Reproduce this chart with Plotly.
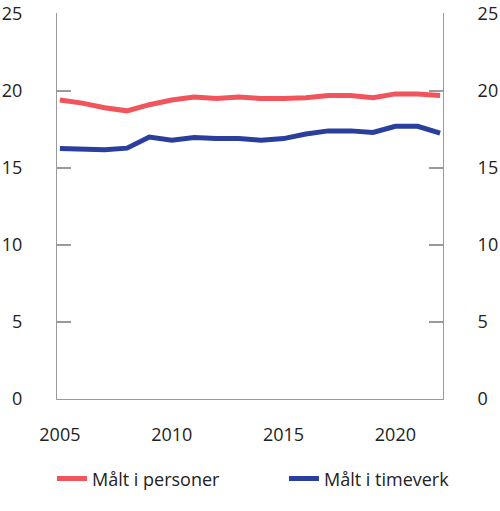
import plotly.graph_objects as go

# Data
years = list(range(2005, 2023))
personer = [19.4, 19.2, 18.9, 18.7, 19.1, 19.4, 19.6, 19.5, 19.6, 19.5,
            19.5, 19.55, 19.7, 19.7, 19.55, 19.8, 19.8, 19.7]
timeverk = [16.25, 16.17, 16.17, 16.28, 17.0, 16.8, 16.97, 16.9, 16.9, 16.8,
            16.9, 17.2, 17.4, 17.4, 17.3, 17.7, 17.7, 17.25]
y_ticks = [0, 5, 10, 15, 20, 25]
x_ticks = [2005, 2010, 2015, 2020]

red = '#F2545B'
blue = '#2A3F9D'
grey = '#9a9a9a'
font = dict(family='Open Sans', size=18, color='#222222')

fig = go.Figure()

fig.add_trace(go.Scatter(x=years, y=personer, mode='lines', legend='legend',
                         line=dict(color=red, width=5), name='Målt i personer'))
fig.add_trace(go.Scatter(x=years, y=timeverk, mode='lines', legend='legend2',
                         line=dict(color=blue, width=5), name='Målt i timeverk'))
# invisible trace so the right axis is drawn
fig.add_trace(go.Scatter(x=years, y=timeverk, yaxis='y2', mode='lines',
                         line=dict(color='rgba(0,0,0,0)', width=1),
                         showlegend=False, hoverinfo='skip'))

# range a hair above 25 so the top tick is not clipped
yaxis_common = dict(range=[0, 25.05], tickmode='array', tickvals=y_ticks,
                    showgrid=False, zeroline=False,
                    showline=True, linecolor=grey, linewidth=1,
                    ticks='inside', ticklen=14, tickcolor=grey, tickwidth=1.5,
                    tickfont=font, automargin=False, ticklabelstandoff=30)

legend_common = dict(orientation='h', y=-0.207, xanchor='left', yanchor='middle',
                     font=font, bgcolor='rgba(0,0,0,0)')

fig.update_layout(
    width=500, height=511,
    margin=dict(l=57, r=57, t=13, b=112),
    plot_bgcolor='white', paper_bgcolor='white',
    font=font,
    xaxis=dict(range=[2004.87, 2022.13], tickvals=x_ticks, showgrid=False,
               zeroline=False, showline=True, linecolor=grey, linewidth=1,
               ticks='', ticklabelstandoff=19, tickfont=font, automargin=False),
    yaxis=yaxis_common,
    yaxis2=dict(**yaxis_common, overlaying='y', side='right'),
    legend=dict(**legend_common, x=-0.013),
    legend2=dict(**legend_common, x=0.588),
    showlegend=True,
)

# drop the default body margin so the 500x511 figure fills the window exactly
fig.write_html("out.html", config=dict(displayModeBar=False),
               post_script="document.body.style.margin='0';")
